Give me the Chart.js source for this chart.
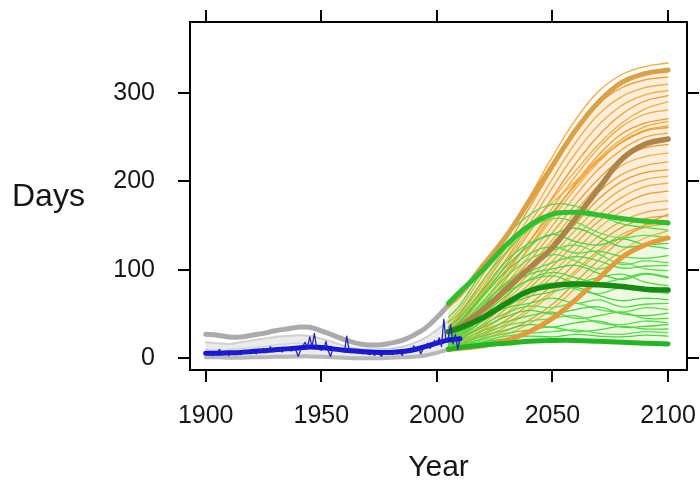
<!DOCTYPE html>
<html><head><meta charset="utf-8">
<script src="https://cdn.jsdelivr.net/npm/chart.js@4/dist/chart.umd.min.js"></script>
<style>html,body{margin:0;padding:0;background:#fff}canvas{display:block}</style>
</head><body>
<canvas id="c" width="700" height="485"></canvas>
<script>
// ---------- data ----------
const xTitle = 'Year';
const yTitle = 'Days';
const xTickValues = [1900, 1950, 2000, 2050, 2100];
const yTickValues = [0, 100, 200, 300];
const xMin = 1893.2, xMax = 2108.2;
const yMin = -13.4, yMax = 380.4;

// historical model envelope (grey)
const histYears = [1900,1905,1910,1915,1920,1925,1930,1935,1940,1945,1950,1955,1960,1965,1970,1975,1980,1985,1990,1995,2000,2005];
const grayUpper = [27,26,24,24,26,28,31,33,35,35,31,26,21,17,15,15,17,20,26,34,46,60];
const grayMidA  = [18,17,16,18,20,22,24,25,26,25,22,18,14,11,10,10,11,13,17,23,32,42];
const grayMidB  = [10,9,10,11,12,13,15,16,17,16,14,11,8,6,5,5,6,8,10,14,20,28];
const grayLower = [1,1,0.5,0.5,1,1,1.5,1.5,2,2,1.5,1,0.5,0,0,0,0.5,1,1.5,3,6,10];

// observations (blue)
const obsStartYear = 1900;
const obsValues = [
  5,4,6,3,5,7,10,4,6,5,
  3,6,7,5,8,4,6,9,5,7,
  8,6,5,9,7,11,6,8,13,7,
  9,8,11,7,10,9,12,8,10,9,
  2,9,14,18,12,24,13,28,11,10,
  9,10,19,8,2,11,9,10,8,9,
  7,25,9,6,8,9,6,7,5,7,
  5,4,7,3,6,5,2,6,4,5,
  6,4,8,5,7,3,9,6,8,7,
  14,8,12,5,10,13,17,11,14,20,
  16,23,13,44,18,24,38,16,27,10,
  22];
const obsSmoothYears = [1900,1905,1910,1915,1920,1925,1930,1935,1940,1945,1950,1955,1960,1965,1970,1975,1980,1985,1990,1995,2000,2005,2010];
const obsSmooth = [5.5,5.5,6,6.5,7.5,8.5,9.5,10.5,11.5,12.5,12,10.5,9,8,7,6.5,6.5,7.5,9.5,13,17,20.5,22];

// projections
const futureYears = [2005,2010,2020,2030,2040,2050,2060,2070,2080,2090,2100];
const orangeUpper  = [60,72,105,138,178,218,258,290,312,322,326];
const orangeMedian = [30,36,55,78,102,125,158,192,225,242,248];
const orangeLower  = [10,11,14,20,30,45,66,90,114,128,136];
const greenUpper   = [62,75,100,128,150,163,165,162,158,155,153];
const greenMedian  = [30,34,46,62,76,82,84,83,81,78,77];
const greenLower   = [10,12,15,17,19,20,20,19,18,17,16];

const orangeMembers = [
  [42,56,95,136,182,228,270,302,321,330,334],
  [36,50,88,126,170,214,256,288,306,315,318],
  [32,45,80,120,160,203,244,276,296,306,310],
  [28,41,74,112,152,193,232,264,286,298,303],
  [26,38,70,106,142,182,220,252,276,291,297],
  [30,42,76,110,146,180,212,242,266,282,290],
  [22,34,64,97,132,170,206,238,262,276,281],
  [20,31,58,90,126,162,198,230,254,266,271],
  [25,36,63,93,124,158,192,222,245,258,263],
  [18,28,54,84,116,150,184,214,236,250,255],
  [21,31,56,82,110,142,174,203,226,238,242],
  [15,24,48,76,104,134,166,196,218,228,232],
  [23,31,51,74,100,130,160,188,208,218,222],
  [16,23,43,69,96,124,152,180,200,210,213],
  [18,26,46,66,90,117,145,171,191,202,206],
  [12,20,39,61,84,110,137,162,182,194,198],
  [14,21,36,56,79,104,130,155,173,185,189],
  [10,16,31,51,73,97,122,147,166,175,178],
  [12,18,33,49,69,92,115,138,155,165,169],
  [10,15,28,43,61,83,107,130,148,158,161],
  [8,12,23,36,53,73,96,119,137,148,152],
  [13,17,26,39,56,76,99,122,140,150,156],
  [12,15,22,31,43,61,86,111,134,151,163],
  [9,11,18,27,39,56,79,102,122,136,144],
  [34,48,84,118,150,176,200,226,248,262,268],
  [27,39,70,100,132,165,196,224,244,257,261]
];
const greenMembers = [
  [46,60,100,138,162,174,172,162,152,148,145],
  [40,52,88,120,146,158,154,142,136,139,136],
  [35,46,78,110,130,140,147,137,126,128,130],
  [31,41,70,98,118,126,119,121,115,113,116],
  [28,38,62,86,104,117,110,101,108,101,99],
  [25,34,58,80,95,101,105,96,89,95,91],
  [22,30,52,74,88,93,86,91,95,86,82],
  [20,28,48,65,79,85,78,73,80,76,73],
  [18,25,42,59,70,75,80,71,65,68,66],
  [22,28,44,57,62,68,62,66,58,61,62],
  [15,22,38,51,59,57,62,55,52,57,55],
  [16,22,35,47,54,50,55,58,50,48,51],
  [14,20,31,41,48,52,45,48,52,45,45],
  [12,18,28,37,42,45,48,40,38,42,40],
  [12,16,25,32,38,35,40,42,35,36,38],
  [10,14,22,28,32,35,30,32,36,33,33],
  [10,13,20,25,28,30,32,28,27,30,29],
  [8,12,18,22,25,24,27,25,24,26,25],
  [18,26,48,71,89,97,91,85,90,96,92],
  [26,36,65,92,112,122,128,118,106,110,108],
  [30,42,72,104,127,140,132,128,135,128,124],
  [24,33,60,84,98,108,115,110,102,104,105]
];

// ---------- build datasets ----------
const FONT = '"Liberation Sans", Arial, Helvetica, sans-serif';
function series(xs, ys, opts) {
  return Object.assign({
    data: xs.map((x, i) => ({x: x, y: ys[i]})),
    pointRadius: 0, pointHoverRadius: 0, borderWidth: 1, tension: 0.4,
    fill: false, borderCapStyle: 'round', borderJoinStyle: 'round'
  }, opts);
}
const layers = [];
function add(ds) { layers.push(ds); return layers.length - 1; }

// grey historical band
const iGrayLower = add(series(histYears, grayLower, {borderColor: '#b8b8b8', borderWidth: 4}));
add(series(histYears, grayMidA, {borderColor: '#d0d0d0', borderWidth: 2, fill: {target: iGrayLower}, backgroundColor: 'rgba(205,205,205,0.4)'}));
add(series(histYears, grayMidB, {borderColor: '#d4d4d4', borderWidth: 1.5}));
add(series(histYears, grayUpper, {borderColor: '#ababab', borderWidth: 5}));

// thin members
const orangeThin = ['#f2a93b', '#f39a2c', '#eeb043'];
orangeMembers.forEach((m, k) => add(series(futureYears, m, {borderColor: orangeThin[k % 3], borderWidth: 1.3})));
const greenThin = ['#4fdc3f', '#5ce04a', '#45d645'];
greenMembers.forEach((m, k) => add(series(futureYears, m, {borderColor: greenThin[k % 3], borderWidth: 1.3})));

// thick projection lines + bands
const iOrangeLower = add(series(futureYears, orangeLower, {borderColor: '#e39b3c', borderWidth: 5}));
add(series(futureYears, orangeUpper, {borderColor: '#d9a246', borderWidth: 5, fill: {target: iOrangeLower}, backgroundColor: 'rgba(251,212,165,0.4)'}));
add(series(futureYears, orangeMedian, {borderColor: '#ad8449', borderWidth: 5.5}));
const iGreenLower = add(series(futureYears, greenLower, {borderColor: '#23b523', borderWidth: 5}));
add(series(futureYears, greenUpper, {borderColor: '#2ec02e', borderWidth: 5, fill: {target: iGreenLower}, backgroundColor: 'rgba(215,242,185,0.4)'}));
add(series(futureYears, greenMedian, {borderColor: '#148c14', borderWidth: 5.5}));

// observations
add(series(obsSmoothYears, obsSmooth, {borderColor: '#1212e6', borderWidth: 5}));
add(series(obsValues.map((v, i) => obsStartYear + i), obsValues, {borderColor: '#2626b4', borderWidth: 1.3, tension: 0}));

layers.forEach((ds, i) => { ds.order = layers.length - i; });

const tickFont = {family: FONT, size: 25};
const gridOpts = {drawOnChartArea: false, drawTicks: true, tickLength: 12, color: '#000', lineWidth: 2};
const borderOpts = {display: true, color: '#000', width: 2};
function fixSize(prop, val) {
  return s => {
    s[prop] = val;
    s.paddingLeft = 0; s.paddingRight = 0; s.paddingTop = 0; s.paddingBottom = 0;
  };
}

const daysLabel = {
  id: 'daysLabel',
  afterDraw(chart) {
    const ctx = chart.ctx;
    ctx.save();
    ctx.font = '32px ' + FONT;
    ctx.fillStyle = '#161616';
    ctx.textAlign = 'left';
    ctx.textBaseline = 'middle';
    ctx.fillText(yTitle, 12, 197);
    ctx.restore();
  }
};

new Chart(document.getElementById('c'), {
  type: 'line',
  data: {datasets: layers},
  plugins: [daysLabel],
  options: {
    responsive: false, animation: false, events: [],
    layout: {padding: 0},
    plugins: {legend: {display: false}, tooltip: {enabled: false}, filler: {drawTime: 'beforeDatasetsDraw'}},
    scales: {
      x: {
        type: 'linear', axis: 'x', position: 'bottom', min: xMin, max: xMax,
        afterBuildTicks: s => { s.ticks = xTickValues.map(v => ({value: v})); },
        afterFit: fixSize('height', 115),
        grid: gridOpts, border: borderOpts,
        ticks: {padding: 19, color: '#161616', font: tickFont, maxRotation: 0, autoSkip: false, callback: v => String(v)},
        title: {display: true, text: xTitle, color: '#161616', font: {family: FONT, size: 30, lineHeight: 1}, padding: {top: 0, bottom: 2}}
      },
      x2: {
        type: 'linear', axis: 'x', position: 'top', min: xMin, max: xMax,
        afterBuildTicks: s => { s.ticks = xTickValues.map(v => ({value: v})); },
        afterFit: fixSize('height', 22),
        grid: gridOpts, border: borderOpts, ticks: {display: false}
      },
      y: {
        type: 'linear', axis: 'y', position: 'left', min: yMin, max: yMax,
        afterBuildTicks: s => { s.ticks = yTickValues.map(v => ({value: v})); },
        afterFit: fixSize('width', 190),
        grid: gridOpts, border: borderOpts,
        ticks: {padding: 23, color: '#161616', font: tickFont, autoSkip: false, callback: v => String(v)}
      },
      y2: {
        type: 'linear', axis: 'y', position: 'right', min: yMin, max: yMax,
        afterBuildTicks: s => { s.ticks = yTickValues.map(v => ({value: v})); },
        afterFit: fixSize('width', 13),
        grid: gridOpts, border: borderOpts, ticks: {display: false}
      }
    }
  }
});
</script>
</body></html>
